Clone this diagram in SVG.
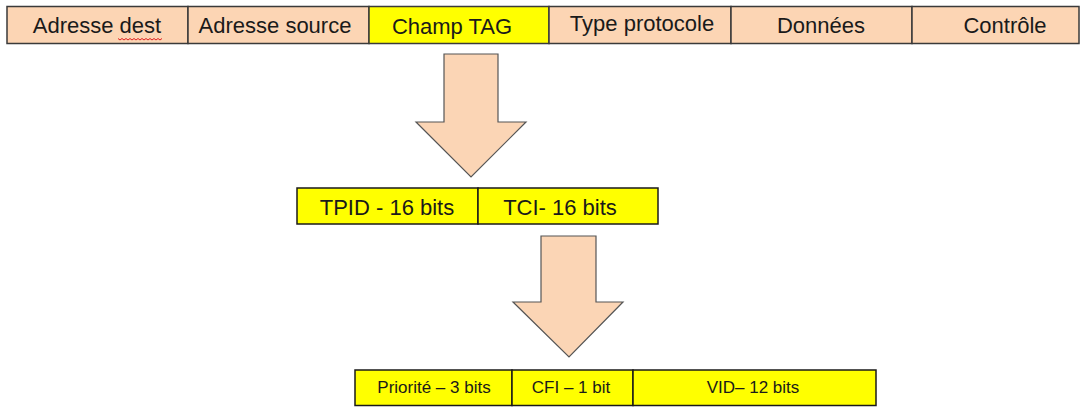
<svg xmlns="http://www.w3.org/2000/svg" width="1082" height="407" viewBox="0 0 1082 407">
<style>
.peach{fill:#FCD5B4;stroke:#3a3a3a;stroke-width:1.5}
.yel{fill:#FFFF00;stroke:#1a1a1a;stroke-width:1.5}
.t{font-family:"Liberation Sans",Arial,sans-serif;font-size:22px;fill:#1a1a1a;text-anchor:middle}
.s{font-family:"Liberation Sans",Arial,sans-serif;font-size:17px;fill:#1a1a1a;text-anchor:middle}
.arrow{fill:#FBD5B5;stroke:#555;stroke-width:1.2;stroke-linejoin:miter}
</style>
<rect width="1082" height="407" fill="#ffffff"/>
<g id="adresse-dest">
<rect class="peach" x="7" y="6.5" width="181" height="37"/>
<text class="t" x="97" y="33">Adresse dest</text>
<path d="M118 38.5 l2 1.5 l2 -1.5 l2 1.5 l2 -1.5 l2 1.5 l2 -1.5 l2 1.5 l2 -1.5 l2 1.5 l2 -1.5 l2 1.5 l2 -1.5 l2 1.5 l2 -1.5 l2 1.5 l2 -1.5 l2 1.5 l2 -1.5 l2 1.5 l2 -1.5 l2 1.5 l2 -1.5" fill="none" stroke="#e02020" stroke-width="1"/>
</g>
<g id="adresse-source">
<rect class="peach" x="188" y="6.5" width="181" height="37"/>
<text class="t" x="275" y="33">Adresse source</text>
</g>
<g id="champ-tag">
<rect class="yel" x="369" y="6.5" width="180" height="37" style="stroke:#3a3a3a"/>
<text class="t" x="452" y="34">Champ TAG</text>
</g>
<g id="type-protocole">
<rect class="peach" x="549" y="6.5" width="182" height="37"/>
<text class="t" x="642" y="31">Type protocole</text>
</g>
<g id="donnees">
<rect class="peach" x="731" y="6.5" width="181" height="37"/>
<text class="t" x="821" y="33">Données</text>
</g>
<g id="controle">
<rect class="peach" x="912" y="6.5" width="167" height="37"/>
<text class="t" x="1005" y="33">Contrôle</text>
</g>
<g id="connectors">
<polygon class="arrow" points="444,54 498,54 498,122 526,122 471,177 416,122 444,122"/>
<polygon class="arrow" points="541,236 596,236 596,302 623,302 569,357 513,302 541,302"/>
</g>
<g id="tpid">
<rect class="yel" x="297" y="188" width="181" height="36"/>
<text class="t" x="387" y="215">TPID - 16 bits</text>
</g>
<g id="tci">
<rect class="yel" x="478" y="188" width="180" height="36"/>
<text class="t" x="560" y="215">TCI- 16 bits</text>
</g>
<g id="priorite">
<rect class="yel" x="355" y="370" width="157" height="35.5"/>
<text class="s" x="434" y="393">Priorité – 3 bits</text>
</g>
<g id="cfi">
<rect class="yel" x="512" y="370" width="121" height="35.5"/>
<text class="s" x="571" y="393">CFI – 1 bit</text>
</g>
<g id="vid">
<rect class="yel" x="633" y="370" width="243" height="35.5"/>
<text class="s" x="753" y="393">VID– 12 bits</text>
</g>
</svg>
